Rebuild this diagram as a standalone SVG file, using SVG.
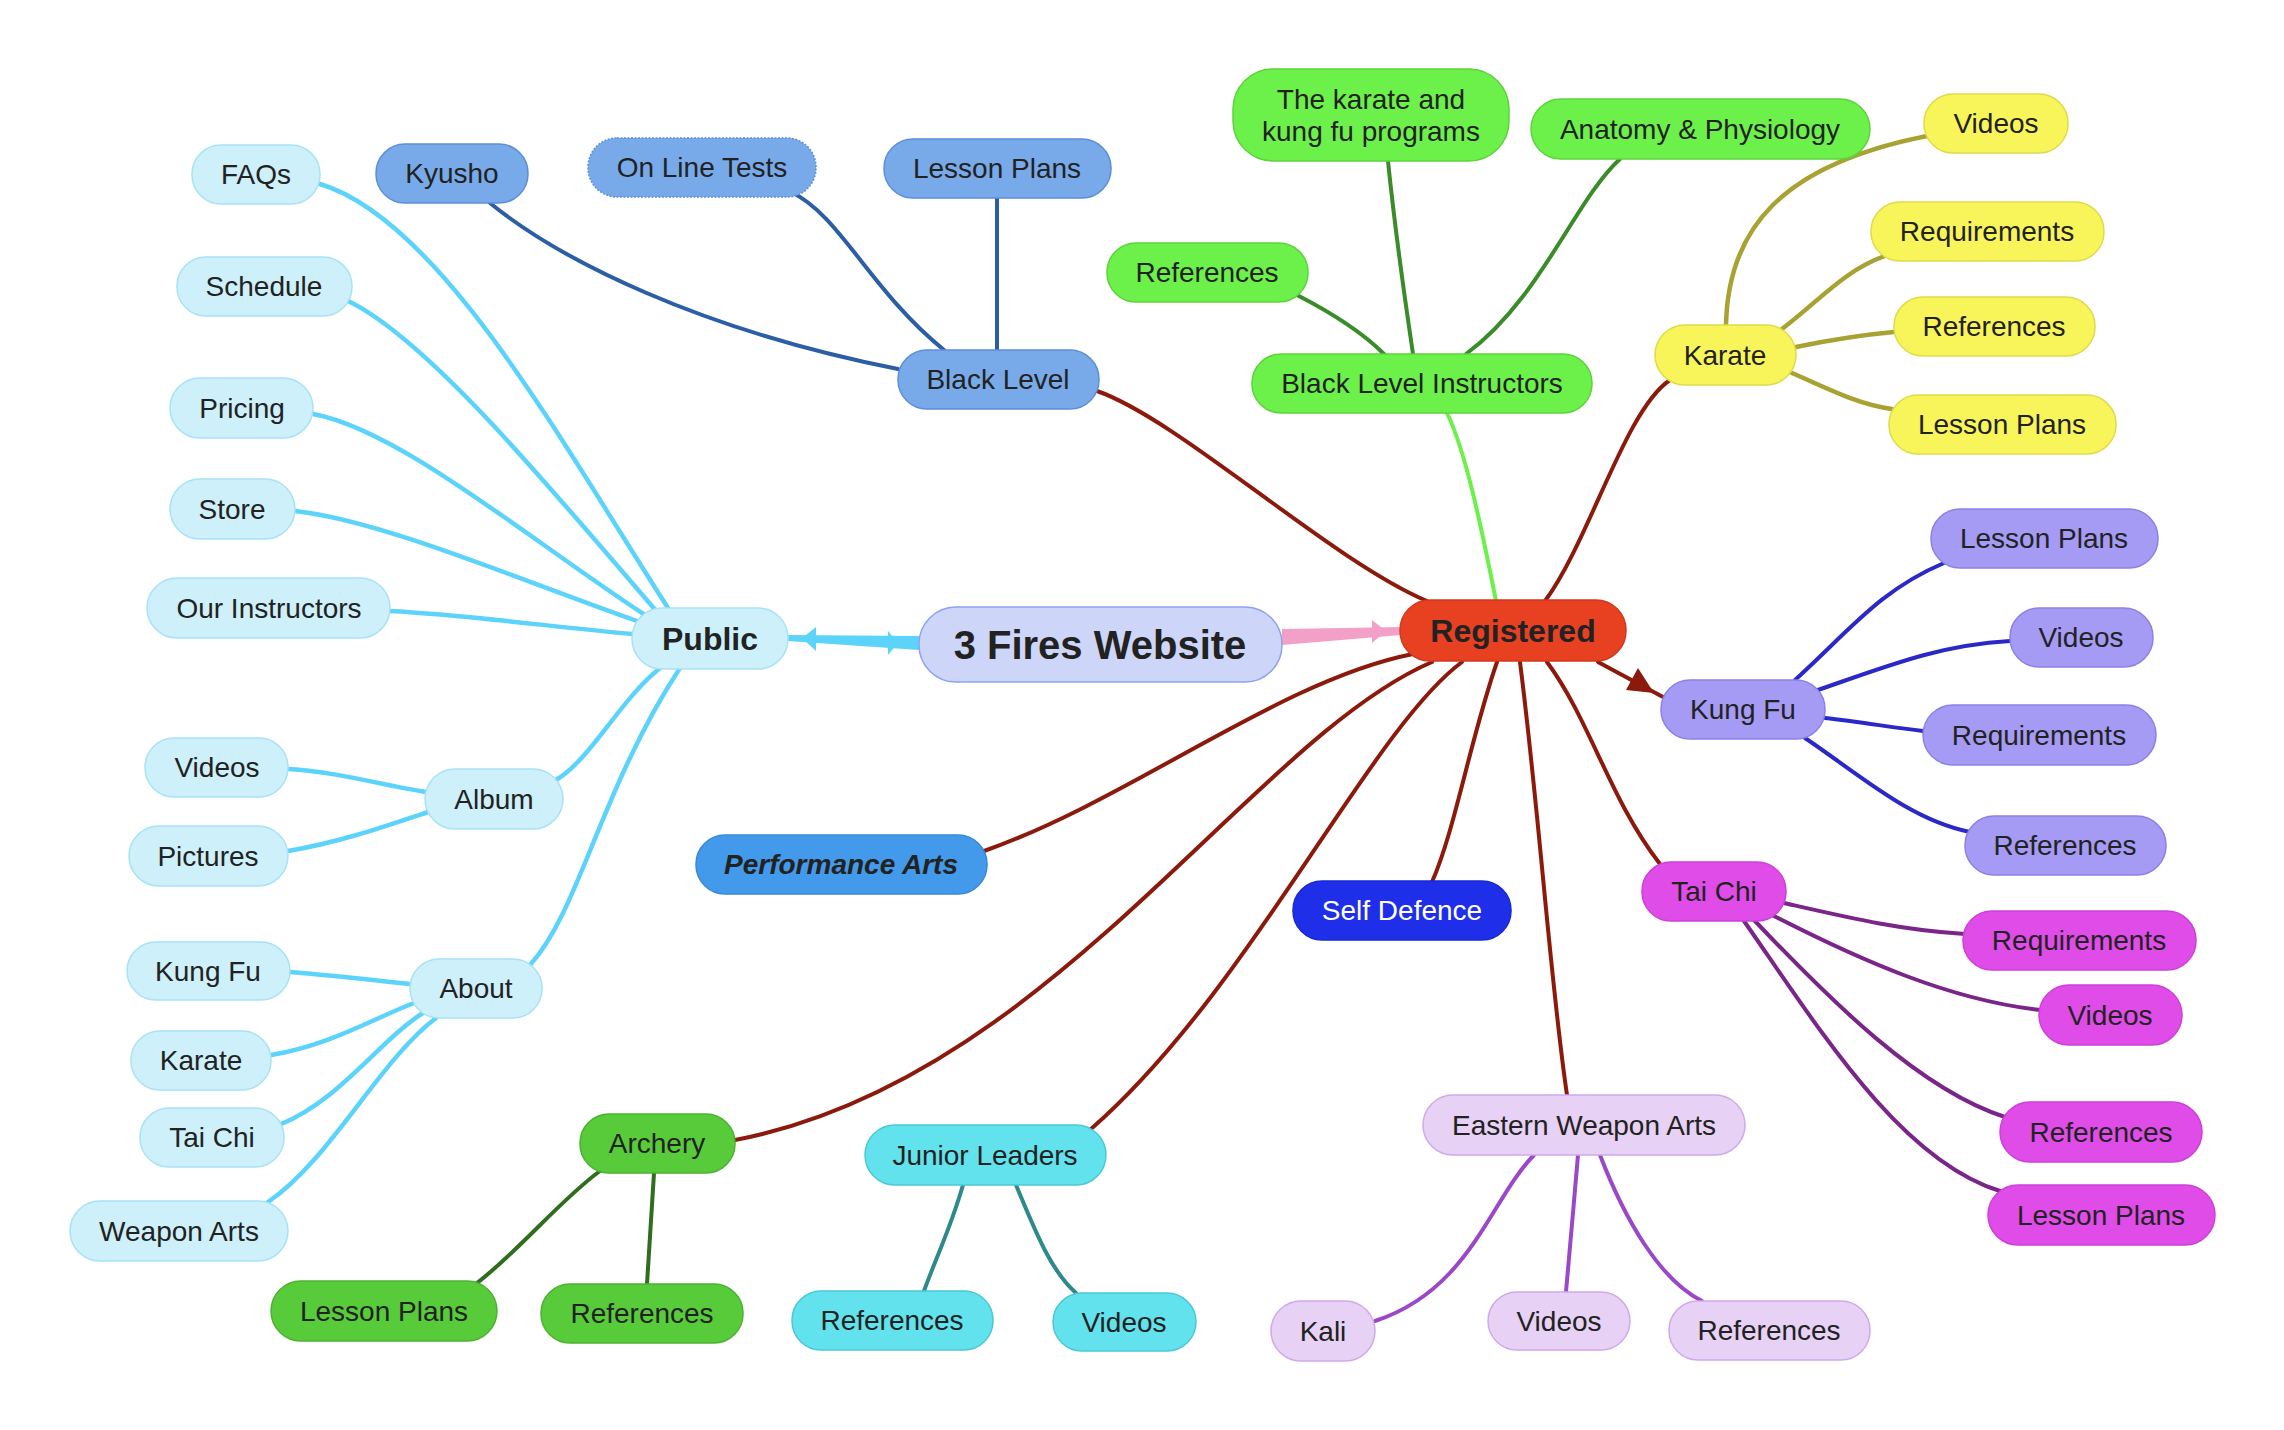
<svg xmlns="http://www.w3.org/2000/svg" width="2284" height="1430" viewBox="0 0 2284 1430">
<style>
text{font-family:"Liberation Sans",Arial,Helvetica,sans-serif;font-size:28px;fill:#222;text-anchor:middle}
.b{font-weight:bold}
.e{fill:none;stroke-width:4;stroke-linecap:round}
.pub rect{fill:#cdf0fb;stroke:#a8e2f5;stroke-width:1.5}
.blu rect{fill:#78aaea;stroke:#5b8fd6;stroke-width:1.5}
.grn rect{fill:#6cf04a;stroke:#5ed23e;stroke-width:1.5}
.yel rect{fill:#f8f55b;stroke:#dedb4a;stroke-width:1.5}
.kf rect{fill:#a59bf5;stroke:#8b82e6;stroke-width:1.5}
.tc rect{fill:#e04ce8;stroke:#cc40d8;stroke-width:1.5}
.ewa rect{fill:#e7d1f4;stroke:#cfa9ea;stroke-width:1.5}
.jl rect{fill:#62e2ec;stroke:#4ac8d6;stroke-width:1.5}
.arc rect{fill:#58cb3b;stroke:#4bb232;stroke-width:1.5}
.ep{stroke:#5cd3fb;stroke-width:4.5}
.eb{stroke:#2b5ea7}
.eg{stroke:#3a8c28}
.er{stroke:#8b1a0c}
.ey{stroke:#a8a232;stroke-width:4.5}
.ek{stroke:#2b28c8}
.et{stroke:#7a2588}
.ew{stroke:#9a48c8}
.ej{stroke:#2e8a8a}
.ea{stroke:#2e6e1e}
</style>
<rect width="2284" height="1430" fill="#fff"/>
<g id="connectors">
<polygon points="788,635 919,636 919,650 788,641" fill="#5cd3fb"/>
<polygon points="802,638 816,627 816,651" fill="#5cd3fb"/>
<polygon points="898,643 888,631 888,655" fill="#5cd3fb"/>
<polygon points="1282,629 1401,627 1401,635 1282,645" fill="#f3a0c8"/>
<polygon points="1386,631 1372,620 1372,643" fill="#f3a0c8"/>
<path class="e ep" d="M320,184 C440,220 560,440 668,608"/>
<path class="e ep" d="M348,301 C430,340 560,500 658,613"/>
<path class="e ep" d="M313,414 C400,430 530,540 645,615"/>
<path class="e ep" d="M295,511 C380,520 520,580 637,621"/>
<path class="e ep" d="M390,611 C470,615 560,628 633,634"/>
<path class="e ep" d="M556,780 C590,760 620,700 660,668"/>
<path class="e ep" d="M530,965 C580,910 600,790 680,668"/>
<path class="e ep" d="M288,769 C340,772 380,785 426,792"/>
<path class="e ep" d="M288,851 C340,842 380,828 428,812"/>
<path class="e ep" d="M290,972 C340,976 380,981 411,984"/>
<path class="e ep" d="M271,1055 C330,1045 370,1020 414,1003"/>
<path class="e ep" d="M281,1124 C340,1100 380,1040 423,1013"/>
<path class="e ep" d="M268,1202 C330,1160 380,1060 436,1018"/>
<path class="e eb" d="M490,203 C560,260 700,330 898,369"/>
<path class="e eb" d="M791,192 C840,215 870,290 944,350"/>
<path class="e eb" d="M997,198 L997,350"/>
<path class="e eg" d="M1297,295 C1330,312 1360,330 1384,354"/>
<path class="e eg" d="M1388,161 C1395,230 1405,300 1413,354"/>
<path class="e eg" d="M1620,159 C1575,200 1540,300 1466,354"/>
<path class="e er" d="M1097,391 C1180,420 1330,560 1427,601"/>
<path class="e er" d="M1545,601 C1590,540 1625,410 1670,380"/>
<path class="e" stroke="#6cf04a" stroke-width="3" d="M1496,601 C1480,520 1465,450 1447,413"/>
<path class="e er" d="M1598,662 L1663,697"/>
<polygon points="1654,693 1626,690 1638,668" fill="#8b1a0c"/>
<path class="e er" d="M1547,662 C1590,720 1610,800 1660,864"/>
<path class="e er" d="M1520,662 C1540,820 1550,980 1567,1095"/>
<path class="e er" d="M1497,662 C1470,740 1455,830 1432,882"/>
<path class="e er" d="M1462,662 C1370,730 1250,990 1091,1129"/>
<path class="e er" d="M1432,662 C1250,740 1050,1080 735,1140"/>
<path class="e er" d="M1413,654 C1280,680 1130,800 984,851"/>
<path class="e ey" d="M1726,325 C1728,230 1780,165 1927,136"/>
<path class="e ey" d="M1782,329 C1820,300 1845,270 1885,256"/>
<path class="e ey" d="M1796,347 C1830,340 1860,335 1894,332"/>
<path class="e ey" d="M1790,372 C1830,390 1860,405 1892,409"/>
<path class="e ek" d="M1795,680 C1850,630 1880,590 1944,563"/>
<path class="e ek" d="M1818,690 C1890,665 1940,645 2010,641"/>
<path class="e ek" d="M1825,718 C1860,722 1890,727 1923,731"/>
<path class="e ek" d="M1805,738 C1860,775 1910,820 1970,832"/>
<path class="e et" d="M1784,903 C1850,918 1900,930 1965,934"/>
<path class="e et" d="M1774,916 C1860,960 1950,1000 2040,1010"/>
<path class="e et" d="M1754,920 C1830,1000 1920,1090 2005,1117"/>
<path class="e et" d="M1744,921 C1820,1030 1900,1160 2000,1191"/>
<path class="e ew" d="M1534,1155 C1490,1200 1470,1290 1375,1321"/>
<path class="e ew" d="M1578,1155 C1574,1200 1570,1250 1566,1292"/>
<path class="e ew" d="M1600,1155 C1625,1220 1660,1280 1702,1301"/>
<path class="e ej" d="M963,1185 C950,1230 935,1260 924,1291"/>
<path class="e ej" d="M1016,1185 C1035,1230 1050,1270 1076,1293"/>
<path class="e ea" d="M600,1171 C560,1200 520,1250 477,1283"/>
<path class="e ea" d="M654,1173 L647,1284"/>
</g>

<g id="n_center"><rect x="919" y="607" width="363" height="75" rx="37" fill="#cdd5f8" stroke="#8ca2f0" stroke-width="1.5"/><text class="b" x="1100" y="659" style="font-size:40px">3 Fires Website</text></g>
<g id="n_registered"><rect x="1400" y="600" width="226" height="61" rx="30" fill="#e84122" stroke="#cf3a20" stroke-width="1.5"/><text class="b" x="1513" y="642" style="font-size:32px">Registered</text></g>

<g class="pub">
<g id="n_public"><rect x="632" y="608" width="156" height="61" rx="30"/><text class="b" x="710" y="650" style="font-size:32px">Public</text></g>
<g id="n_faqs"><rect x="192" y="145" width="128" height="59" rx="29"/><text x="256" y="184">FAQs</text></g>
<g id="n_schedule"><rect x="177" y="257" width="175" height="59" rx="29"/><text x="264" y="296">Schedule</text></g>
<g id="n_pricing"><rect x="170" y="378" width="143" height="60" rx="30"/><text x="242" y="418">Pricing</text></g>
<g id="n_store"><rect x="170" y="479" width="125" height="60" rx="30"/><text x="232" y="519">Store</text></g>
<g id="n_instructors"><rect x="147" y="578" width="243" height="60" rx="30"/><text x="269" y="618">Our Instructors</text></g>
<g id="n_album"><rect x="425" y="769" width="138" height="60" rx="30"/><text x="494" y="809">Album</text></g>
<g id="n_album_videos"><rect x="145" y="738" width="143" height="59" rx="29"/><text x="217" y="777">Videos</text></g>
<g id="n_album_pictures"><rect x="129" y="826" width="159" height="60" rx="30"/><text x="208" y="866">Pictures</text></g>
<g id="n_about"><rect x="410" y="959" width="132" height="59" rx="29"/><text x="476" y="998">About</text></g>
<g id="n_about_kungfu"><rect x="127" y="942" width="163" height="58" rx="29"/><text x="208" y="981">Kung Fu</text></g>
<g id="n_about_karate"><rect x="131" y="1031" width="140" height="59" rx="29"/><text x="201" y="1070">Karate</text></g>
<g id="n_about_taichi"><rect x="140" y="1108" width="144" height="59" rx="29"/><text x="212" y="1147">Tai Chi</text></g>
<g id="n_about_weapon"><rect x="70" y="1201" width="218" height="60" rx="30"/><text x="179" y="1241">Weapon Arts</text></g>
</g>

<g class="blu">
<g id="n_blacklevel"><rect x="898" y="350" width="201" height="59" rx="29"/><text x="998" y="389">Black Level</text></g>
<g id="n_kyusho"><rect x="376" y="144" width="152" height="59" rx="29"/><text x="452" y="183">Kyusho</text></g>
<g id="n_onlinetests"><rect x="588" y="138" width="228" height="59" rx="29" stroke-dasharray="2 1.5"/><text x="702" y="177">On Line Tests</text></g>
<g id="n_bl_lessonplans"><rect x="884" y="139" width="227" height="59" rx="29"/><text x="997" y="178">Lesson Plans</text></g>
</g>

<g class="grn">
<g id="n_bli"><rect x="1252" y="354" width="340" height="59" rx="29"/><text x="1422" y="393">Black Level Instructors</text></g>
<g id="n_programs"><rect x="1233" y="69" width="276" height="92" rx="40"/><text x="1371" y="109">The karate and</text><text x="1371" y="141">kung fu programs</text></g>
<g id="n_anatomy"><rect x="1531" y="99" width="339" height="60" rx="30"/><text x="1700" y="139">Anatomy &amp; Physiology</text></g>
<g id="n_bli_refs"><rect x="1107" y="243" width="201" height="59" rx="29"/><text x="1207" y="282">References</text></g>
</g>

<g class="yel">
<g id="n_karate"><rect x="1655" y="325" width="141" height="60" rx="30"/><text x="1725" y="365">Karate</text></g>
<g id="n_karate_videos"><rect x="1924" y="94" width="144" height="59" rx="29"/><text x="1996" y="133">Videos</text></g>
<g id="n_karate_req"><rect x="1871" y="202" width="233" height="59" rx="29"/><text x="1987" y="241">Requirements</text></g>
<g id="n_karate_refs"><rect x="1894" y="297" width="201" height="59" rx="29"/><text x="1994" y="336">References</text></g>
<g id="n_karate_lp"><rect x="1889" y="395" width="227" height="59" rx="29"/><text x="2002" y="434">Lesson Plans</text></g>
</g>

<g class="kf">
<g id="n_kungfu"><rect x="1661" y="680" width="164" height="59" rx="29"/><text x="1743" y="719">Kung Fu</text></g>
<g id="n_kf_lp"><rect x="1931" y="509" width="227" height="59" rx="29"/><text x="2044" y="548">Lesson Plans</text></g>
<g id="n_kf_videos"><rect x="2010" y="608" width="143" height="59" rx="29"/><text x="2081" y="647">Videos</text></g>
<g id="n_kf_req"><rect x="1923" y="705" width="233" height="60" rx="30"/><text x="2039" y="745">Requirements</text></g>
<g id="n_kf_refs"><rect x="1965" y="816" width="201" height="59" rx="29"/><text x="2065" y="855">References</text></g>
</g>

<g class="tc">
<g id="n_taichi"><rect x="1642" y="862" width="144" height="59" rx="29"/><text x="1714" y="901">Tai Chi</text></g>
<g id="n_tc_req"><rect x="1963" y="911" width="233" height="59" rx="29"/><text x="2079" y="950">Requirements</text></g>
<g id="n_tc_videos"><rect x="2039" y="985" width="143" height="60" rx="30"/><text x="2110" y="1025">Videos</text></g>
<g id="n_tc_refs"><rect x="2000" y="1102" width="202" height="60" rx="30"/><text x="2101" y="1142">References</text></g>
<g id="n_tc_lp"><rect x="1988" y="1185" width="227" height="60" rx="30"/><text x="2101" y="1225">Lesson Plans</text></g>
</g>

<g class="ewa">
<g id="n_ewa"><rect x="1423" y="1095" width="322" height="60" rx="30"/><text x="1584" y="1135">Eastern Weapon Arts</text></g>
<g id="n_kali"><rect x="1271" y="1301" width="104" height="60" rx="30"/><text x="1323" y="1341">Kali</text></g>
<g id="n_ewa_videos"><rect x="1488" y="1292" width="142" height="58" rx="29"/><text x="1559" y="1331">Videos</text></g>
<g id="n_ewa_refs"><rect x="1669" y="1301" width="201" height="59" rx="29"/><text x="1769" y="1340">References</text></g>
</g>

<g class="jl">
<g id="n_jl"><rect x="865" y="1125" width="241" height="60" rx="30"/><text x="985" y="1165">Junior Leaders</text></g>
<g id="n_jl_refs"><rect x="792" y="1291" width="201" height="59" rx="29"/><text x="892" y="1330">References</text></g>
<g id="n_jl_videos"><rect x="1053" y="1293" width="143" height="58" rx="29"/><text x="1124" y="1332">Videos</text></g>
</g>

<g class="arc">
<g id="n_archery"><rect x="580" y="1114" width="155" height="59" rx="29"/><text x="657" y="1153">Archery</text></g>
<g id="n_arc_lp"><rect x="271" y="1281" width="226" height="60" rx="30"/><text x="384" y="1321">Lesson Plans</text></g>
<g id="n_arc_refs"><rect x="541" y="1284" width="202" height="59" rx="29"/><text x="642" y="1323">References</text></g>
</g>

<g id="n_performance"><rect x="696" y="835" width="291" height="59" rx="29" fill="#4399ea" stroke="#3a88d8" stroke-width="1.5"/><text class="b" x="841" y="874" font-style="italic">Performance Arts</text></g>
<g id="n_selfdefence"><rect x="1293" y="881" width="218" height="59" rx="29" fill="#1f2ee8" stroke="#1a28d0" stroke-width="1.5"/><text x="1402" y="920" style="fill:#fff">Self Defence</text></g>
</svg>
